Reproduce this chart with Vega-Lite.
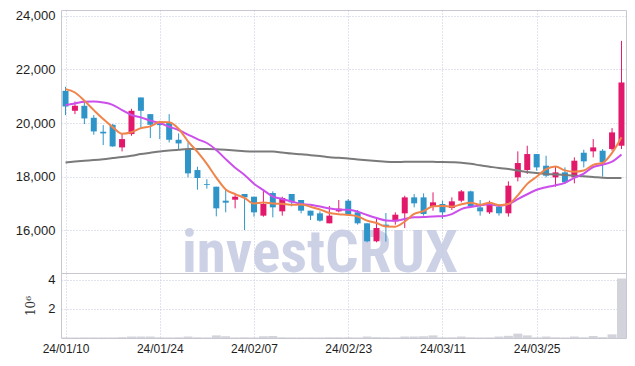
{
  "$schema": "https://vega.github.io/schema/vega-lite/v6.json",
  "background": "white",
  "padding": {"left": 14, "top": 9, "right": 8, "bottom": 5},
  "spacing": 0,
  "bounds": "flush",
  "config": {
    "view": {"stroke": "#c8c8d2", "strokeWidth": 1},
    "axis": {
      "labelFont": "Liberation Sans",
      "labelFontSize": 12,
      "labelColor": "#1e1e1e",
      "gridColor": "#c3c6de",
      "gridDash": [1, 2],
      "gridWidth": 1,
      "domain": false,
      "ticks": false
    }
  },
  "datasets": {
    "d": [
      {"date":"24/01/10","open":21202,"high":21350,"low":20295,"close":20618,"ma5":21265,"ma10":20668,"ma60":18530,"vol":0.04},
      {"date":"24/01/11","open":20456,"high":20805,"low":20332,"close":20643,"ma5":21140,"ma10":20730,"ma60":18560,"vol":0.04},
      {"date":"24/01/12","open":20643,"high":20830,"low":19960,"close":20171,"ma5":20830,"ma10":20792,"ma60":18590,"vol":0.04},
      {"date":"24/01/15","open":20196,"high":20295,"low":19562,"close":19686,"ma5":20482,"ma10":20805,"ma60":18617,"vol":0.04},
      {"date":"24/01/16","open":19674,"high":19922,"low":19176,"close":19612,"ma5":20146,"ma10":20768,"ma60":18650,"vol":0.04},
      {"date":"24/01/17","open":19935,"high":19960,"low":19114,"close":19127,"ma5":19848,"ma10":20680,"ma60":18690,"vol":0.04},
      {"date":"24/01/18","open":19089,"high":19587,"low":18940,"close":19400,"ma5":19599,"ma10":20482,"ma60":18730,"vol":0.06},
      {"date":"24/01/19","open":19587,"high":20531,"low":19524,"close":20456,"ma5":19656,"ma10":20300,"ma60":18780,"vol":0.1},
      {"date":"24/01/22","open":20954,"high":20954,"low":19773,"close":20456,"ma5":19810,"ma10":20210,"ma60":18840,"vol":0.1},
      {"date":"24/01/23","open":20332,"high":20332,"low":19438,"close":19935,"ma5":19875,"ma10":20090,"ma60":18890,"vol":0.1},
      {"date":"24/01/24","open":19984,"high":20084,"low":19400,"close":19922,"ma5":20034,"ma10":20000,"ma60":18940,"vol":0.05},
      {"date":"24/01/25","open":20034,"high":20332,"low":19276,"close":19375,"ma5":20029,"ma10":19860,"ma60":18975,"vol":0.04},
      {"date":"24/01/26","open":19375,"high":19612,"low":19002,"close":19238,"ma5":19785,"ma10":19740,"ma60":19002,"vol":0.05},
      {"date":"24/01/29","open":19027,"high":19276,"low":17971,"close":18120,"ma5":19318,"ma10":19570,"ma60":19027,"vol":0.1},
      {"date":"24/01/30","open":18244,"high":18368,"low":17511,"close":17946,"ma5":18920,"ma10":19398,"ma60":19030,"vol":0.05},
      {"date":"24/01/31","open":17720,"high":17900,"low":17550,"close":17690,"ma5":18474,"ma10":19254,"ma60":19030,"vol":0.04},
      {"date":"24/02/01","open":17622,"high":17622,"low":16516,"close":16814,"ma5":17962,"ma10":18995,"ma60":19020,"vol":0.18},
      {"date":"24/02/02","open":17100,"high":17498,"low":16665,"close":17025,"ma5":17519,"ma10":18652,"ma60":19000,"vol":0.12},
      {"date":"24/02/05","open":17137,"high":17373,"low":16814,"close":17249,"ma5":17345,"ma10":18331,"ma60":18975,"vol":0.04},
      {"date":"24/02/06","open":17349,"high":17349,"low":16006,"close":17224,"ma5":17200,"ma10":18060,"ma60":18950,"vol":0.05},
      {"date":"24/02/07","open":17249,"high":17249,"low":16503,"close":16665,"ma5":16995,"ma10":17735,"ma60":18941,"vol":0.04},
      {"date":"24/02/08","open":16541,"high":17473,"low":16503,"close":16976,"ma5":17028,"ma10":17495,"ma60":18941,"vol":0.12},
      {"date":"24/02/13","open":17386,"high":17448,"low":16478,"close":16851,"ma5":16993,"ma10":17256,"ma60":18935,"vol":0.14},
      {"date":"24/02/14","open":16702,"high":17249,"low":16541,"close":17200,"ma5":16983,"ma10":17164,"ma60":18900,"vol":0.05},
      {"date":"24/02/15","open":17349,"high":17349,"low":16889,"close":17037,"ma5":16946,"ma10":17073,"ma60":18860,"vol":0.04},
      {"date":"24/02/16","open":17125,"high":17125,"low":16628,"close":16727,"ma5":16958,"ma10":16977,"ma60":18835,"vol":0.04},
      {"date":"24/02/19","open":16727,"high":16727,"low":16379,"close":16541,"ma5":16871,"ma10":16950,"ma60":18800,"vol":0.04},
      {"date":"24/02/20","open":16628,"high":16702,"low":16317,"close":16354,"ma5":16772,"ma10":16882,"ma60":18765,"vol":0.04},
      {"date":"24/02/21","open":16255,"high":16901,"low":16255,"close":16541,"ma5":16640,"ma10":16812,"ma60":18725,"vol":0.05},
      {"date":"24/02/22","open":16702,"high":17125,"low":16665,"close":16802,"ma5":16593,"ma10":16769,"ma60":18700,"vol":0.05},
      {"date":"24/02/23","open":17100,"high":17162,"low":16541,"close":16603,"ma5":16568,"ma10":16763,"ma60":18675,"vol":0.05},
      {"date":"24/02/26","open":16665,"high":16752,"low":16205,"close":16255,"ma5":16511,"ma10":16691,"ma60":18640,"vol":0.04},
      {"date":"24/02/27","open":16255,"high":16255,"low":15546,"close":15584,"ma5":16357,"ma10":16564,"ma60":18610,"vol":0.1},
      {"date":"24/02/28","open":15584,"high":16478,"low":15546,"close":16081,"ma5":16265,"ma10":16453,"ma60":18580,"vol":0.06},
      {"date":"24/02/29","open":16205,"high":16640,"low":15571,"close":16155,"ma5":16136,"ma10":16364,"ma60":18550,"vol":0.05},
      {"date":"24/03/04","open":16329,"high":16665,"low":16205,"close":16578,"ma5":16131,"ma10":16349,"ma60":18540,"vol":0.04},
      {"date":"24/03/05","open":16628,"high":17286,"low":16081,"close":17224,"ma5":16324,"ma10":16418,"ma60":18550,"vol":0.1},
      {"date":"24/03/06","open":17224,"high":17348,"low":16851,"close":17001,"ma5":16608,"ma10":16482,"ma60":18556,"vol":0.1},
      {"date":"24/03/07","open":17224,"high":17373,"low":16541,"close":16603,"ma5":16712,"ma10":16489,"ma60":18556,"vol":0.12},
      {"date":"24/03/08","open":16876,"high":17411,"low":16727,"close":17038,"ma5":16889,"ma10":16512,"ma60":18550,"vol":0.18},
      {"date":"24/03/11","open":16976,"high":17100,"low":16416,"close":16665,"ma5":16906,"ma10":16518,"ma60":18545,"vol":0.05},
      {"date":"24/03/12","open":16826,"high":17224,"low":16752,"close":17075,"ma5":16876,"ma10":16600,"ma60":18535,"vol":0.05},
      {"date":"24/03/13","open":17100,"high":17498,"low":17038,"close":17448,"ma5":16966,"ma10":16787,"ma60":18520,"vol":0.1},
      {"date":"24/03/14","open":17448,"high":17473,"low":16851,"close":16876,"ma5":17020,"ma10":16866,"ma60":18480,"vol":0.05},
      {"date":"24/03/15","open":16851,"high":17125,"low":16541,"close":16702,"ma5":16953,"ma10":16921,"ma60":18420,"vol":0.04},
      {"date":"24/03/18","open":16666,"high":17100,"low":16604,"close":17002,"ma5":17021,"ma10":16963,"ma60":18370,"vol":0.04},
      {"date":"24/03/19","open":16877,"high":16977,"low":16542,"close":16629,"ma5":16931,"ma10":16904,"ma60":18320,"vol":0.1},
      {"date":"24/03/20","open":16629,"high":17822,"low":16505,"close":17660,"ma5":16974,"ma10":16970,"ma60":18280,"vol":0.15},
      {"date":"24/03/21","open":17971,"high":18941,"low":17822,"close":18506,"ma5":17300,"ma10":17160,"ma60":18230,"vol":0.3},
      {"date":"24/03/22","open":18245,"high":19152,"low":18096,"close":18841,"ma5":17728,"ma10":17340,"ma60":18170,"vol":0.18},
      {"date":"24/03/25","open":18841,"high":18841,"low":18220,"close":18344,"ma5":17996,"ma10":17508,"ma60":18130,"vol":0.05},
      {"date":"24/03/26","open":18406,"high":18779,"low":17971,"close":18033,"ma5":18277,"ma10":17604,"ma60":18100,"vol":0.1},
      {"date":"24/03/27","open":17971,"high":18369,"low":17623,"close":18158,"ma5":18376,"ma10":17675,"ma60":18080,"vol":0.05},
      {"date":"24/03/28","open":18158,"high":18344,"low":17723,"close":17785,"ma5":18232,"ma10":17766,"ma60":18060,"vol":0.04},
      {"date":"24/03/29","open":17971,"high":18717,"low":17747,"close":18593,"ma5":18183,"ma10":17955,"ma60":18035,"vol":0.1},
      {"date":"24/04/01","open":18891,"high":19003,"low":18344,"close":18568,"ma5":18227,"ma10":18112,"ma60":18010,"vol":0.05},
      {"date":"24/04/02","open":18941,"high":19401,"low":18717,"close":19090,"ma5":18439,"ma10":18358,"ma60":17985,"vol":0.14},
      {"date":"24/04/03","open":18966,"high":19028,"low":17996,"close":18531,"ma5":18513,"ma10":18445,"ma60":17955,"vol":0.06},
      {"date":"24/04/04","open":19028,"high":19811,"low":18966,"close":19650,"ma5":18886,"ma10":18559,"ma60":17945,"vol":0.25},
      {"date":"24/04/05","open":19152,"high":23068,"low":19028,"close":21514,"ma5":19471,"ma10":18827,"ma60":17945,"vol":4.1}
    ]
  },
  "vconcat": [
    {
      "width": 565,
      "height": 263,
      "data": {"name": "d"},
      "encoding": {
        "x": {
          "field": "date", "type": "ordinal",
          "scale": {"type": "point", "padding": 0.48},
          "axis": {"values": ["24/01/10","24/01/24","24/02/07","24/02/23","24/03/11","24/03/25"], "labels": false, "title": null, "grid": true}
        }
      },
      "layer": [
        {
          "data": {"values": [{}]},
          "mark": {"type": "text", "text": "investCRUX", "font": "Liberation Sans Narrow, Roboto Condensed, DejaVu Sans Condensed, Roboto", "fontWeight": "bold", "fontSize": 59, "color": "#c4cae2", "opacity": 0.85, "align": "center", "baseline": "alphabetic"},
          "encoding": {
            "x": {"datum": "24/02/20", "type": "ordinal"},
            "y": {"datum": 14440, "type": "quantitative", "scale": {"domain": [14400, 24220], "zero": false, "nice": false},
                  "axis": {"values": [16000, 18000, 20000, 22000, 24000], "format": ",.0f", "title": null, "labelFontSize": 13, "labelPadding": 6, "grid": true}}
          }
        },
        {
          "mark": {"type": "rule", "strokeWidth": 1},
          "encoding": {
            "y": {"field": "low", "type": "quantitative", "title": null},
            "y2": {"field": "high"},
            "color": {"condition": {"test": "datum.close >= datum.open", "value": "#e2196b"}, "value": "#2f95c9"}
          }
        },
        {
          "mark": {"type": "bar", "size": 6},
          "encoding": {
            "y": {"field": "open", "type": "quantitative", "title": null},
            "y2": {"field": "close"},
            "color": {"condition": {"test": "datum.close >= datum.open", "value": "#e2196b"}, "value": "#2f95c9"}
          }
        },
        {
          "mark": {"type": "line", "interpolate": "monotone", "strokeWidth": 2, "color": "#7a7a7a"},
          "encoding": {"y": {"field": "ma60", "type": "quantitative", "title": null}}
        },
        {
          "mark": {"type": "line", "interpolate": "monotone", "strokeWidth": 2, "color": "#cc4fec"},
          "encoding": {"y": {"field": "ma10", "type": "quantitative", "title": null}}
        },
        {
          "mark": {"type": "line", "interpolate": "monotone", "strokeWidth": 2, "color": "#f0854c"},
          "encoding": {"y": {"field": "ma5", "type": "quantitative", "title": null}}
        }
      ]
    },
    {
      "width": 565,
      "height": 65,
      "data": {"name": "d"},
      "mark": {"type": "bar", "size": 9, "color": "#d3d3db"},
      "encoding": {
        "x": {
          "field": "date", "type": "ordinal",
          "scale": {"type": "point", "padding": 0.48},
          "axis": {"values": ["24/01/10","24/01/24","24/02/07","24/02/23","24/03/11","24/03/25"], "labelAngle": 0, "labelPadding": 5, "title": null, "grid": true}
        },
        "y": {
          "field": "vol", "type": "quantitative",
          "scale": {"domain": [0, 4.48], "nice": false},
          "axis": {"values": [2, 4], "labelFontSize": 13, "labelPadding": 6, "title": "10⁶", "titleFont": "DejaVu Serif", "titleFontWeight": "normal", "titleFontSize": 12, "titleColor": "#333333", "titlePadding": 10, "grid": true}
        }
      }
    }
  ]
}
